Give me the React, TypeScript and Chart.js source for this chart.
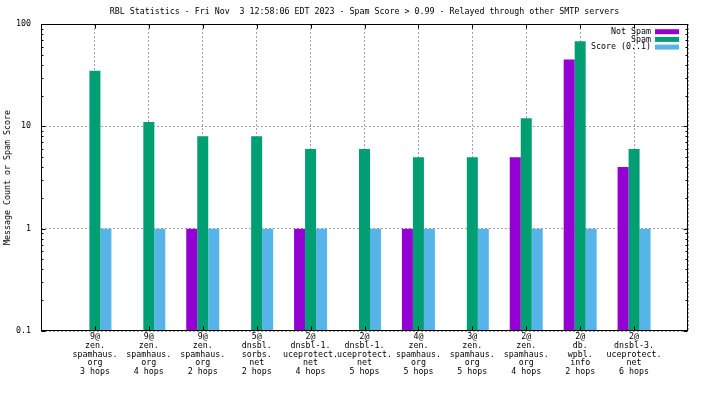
import React, { useEffect, useRef } from 'react';
import { Chart, registerables } from 'chart.js';

Chart.register(...registerables);

const TITLE = 'RBL Statistics - Fri Nov  3 12:58:06 EDT 2023 - Spam Score > 0.99 - Relayed through other SMTP servers';
const Y_TITLE = 'Message Count or Spam Score';

const categories: string[][] = [
  ['9@', 'zen.', 'spamhaus.', 'org', '3 hops'],
  ['9@', 'zen.', 'spamhaus.', 'org', '4 hops'],
  ['9@', 'zen.', 'spamhaus.', 'org', '2 hops'],
  ['5@', 'dnsbl.', 'sorbs.', 'net', '2 hops'],
  ['2@', 'dnsbl-1.', 'uceprotect.', 'net', '4 hops'],
  ['2@', 'dnsbl-1.', 'uceprotect.', 'net', '5 hops'],
  ['4@', 'zen.', 'spamhaus.', 'org', '5 hops'],
  ['3@', 'zen.', 'spamhaus.', 'org', '5 hops'],
  ['2@', 'zen.', 'spamhaus.', 'org', '4 hops'],
  ['2@', 'db.', 'wpbl.', 'info', '2 hops'],
  ['2@', 'dnsbl-3.', 'uceprotect.', 'net', '6 hops'],
];

const notSpam: (number | null)[] = [null, null, 1, null, 1, null, 1, null, 5, 45, 4];
const spam: number[] = [35, 11, 8, 8, 6, 6, 5, 5, 12, 68, 6];
const score: number[] = [1, 1, 1, 1, 1, 1, 1, 1, 1, 1, 1];

const seriesLabels = ['Not Spam', 'Spam', 'Score (0..1)'];
const seriesColors = ['#9400d3', '#009e73', '#56b4e9'];

const yTicks = [0.1, 1, 10, 100];

const FONT = '"DejaVu Sans Mono", "Liberation Mono", monospace';
const FONT_SIZE = 8.3;

const pad = <T,>(arr: T[]): (T | null | string)[] => [null, ...arr, null] as any;

const deco = {
  id: 'deco',
  afterDatasetsDraw(chart: any) {
    const { ctx, chartArea: a, scales } = chart;
    const xs = scales.x;
    const ys = scales.y;
    ctx.save();
    ctx.strokeStyle = '#000';
    ctx.lineWidth = 1;
    ctx.setLineDash([]);
    ctx.beginPath();
    const L = Math.round(a.left) + 0.5;
    const R = Math.round(a.right) - 0.5;
    const T = Math.round(a.top) + 0.5;
    const B = Math.round(a.bottom) - 0.5;
    for (const v of yTicks) {
      const p = Math.round(ys.getPixelForValue(v)) + 0.5;
      ctx.moveTo(L, p); ctx.lineTo(L + 4, p);
      ctx.moveTo(R, p); ctx.lineTo(R - 4, p);
    }
    for (let d = 0; d < yTicks.length - 1; d++) {
      for (let k = 2; k <= 9; k++) {
        const p = Math.round(ys.getPixelForValue(yTicks[d] * k)) + 0.5;
        ctx.moveTo(L, p); ctx.lineTo(L + 2, p);
        ctx.moveTo(R, p); ctx.lineTo(R - 2, p);
      }
    }
    for (let i = 1; i <= categories.length; i++) {
      const p = Math.round(xs.getPixelForValue(i)) + 0.5;
      ctx.moveTo(p, B); ctx.lineTo(p, B - 4);
      ctx.moveTo(p, T); ctx.lineTo(p, T + 4);
    }
    ctx.stroke();
    ctx.strokeRect(L, T, R - L, B - T);

    ctx.font = `${FONT_SIZE}px ${FONT}`;
    ctx.fillStyle = '#000';
    ctx.textAlign = 'center';
    ctx.textBaseline = 'middle';
    ctx.fillText(TITLE, (a.left + a.right) / 2, 12);

    ctx.save();
    ctx.translate(8, (a.top + a.bottom) / 2);
    ctx.rotate(-Math.PI / 2);
    ctx.fillText(Y_TITLE, 0, 0);
    ctx.restore();

    chart.data.datasets.forEach((ds: any, i: number) => {
      const cy = a.top + 7.7 + i * 7.7;
      ctx.fillStyle = '#000';
      ctx.textAlign = 'right';
      ctx.fillText(ds.label, a.right - 37, cy);
      ctx.fillStyle = ds.backgroundColor;
      ctx.fillRect(a.right - 33, cy - 2.5, 24, 5);
    });
    ctx.restore();
  },
};

export default function App() {
  const ref = useRef<HTMLCanvasElement | null>(null);

  useEffect(() => {
    if (!ref.current) return;
    const labels: any[] = ['', ...categories, ''];
    const series = [notSpam, spam, score];
    const chart = new Chart(ref.current, {
      type: 'bar',
      data: {
        labels,
        datasets: series.map((s, i) => ({
          label: seriesLabels[i],
          data: pad(s as any[]) as any,
          backgroundColor: seriesColors[i],
          borderWidth: 0,
          categoryPercentage: 0.612,
          barPercentage: 1.0,
        })),
      },
      options: {
        animation: false,
        responsive: false,
        devicePixelRatio: 1,
        layout: { padding: { top: 24, right: 16, left: 0, bottom: 0 } },
        plugins: {
          legend: { display: false },
          title: { display: false },
          tooltip: { enabled: false },
        },
        scales: {
          x: {
            type: 'category',
            offset: false,
            grid: {
              offset: false,
              color: '#a0a0a0',
              lineWidth: 1,
              drawTicks: false,
            },
            border: { display: false, dash: [2, 2] },
            ticks: {
              autoSkip: false,
              maxRotation: 0,
              minRotation: 0,
              padding: 2,
              color: '#000',
              font: { family: FONT, size: FONT_SIZE, lineHeight: 8.6 / FONT_SIZE },
            },
            afterFit: (s: any) => { s.height = 65; },
          },
          y: {
            type: 'logarithmic',
            min: 0.1,
            max: 100,
            grid: {
              color: '#a0a0a0',
              lineWidth: 1,
              drawTicks: false,
            },
            border: { display: false, dash: [2, 2] },
            afterBuildTicks: (s: any) => {
              s.ticks = yTicks.map((v) => ({ value: v }));
            },
            ticks: {
              padding: 10,
              color: '#000',
              font: { family: FONT, size: FONT_SIZE },
              callback: (v: any) => String(v),
            },
            afterFit: (s: any) => { s.width = 41; },
          },
        },
      } as any,
      plugins: [deco],
    });
    return () => chart.destroy();
  }, []);

  return (
    <div style={{ position: 'fixed', left: 0, top: 0, width: 704, height: 396, background: '#fff' }}>
      <canvas ref={ref} width={704} height={396} style={{ display: 'block', width: 704, height: 396 }} />
    </div>
  );
}
